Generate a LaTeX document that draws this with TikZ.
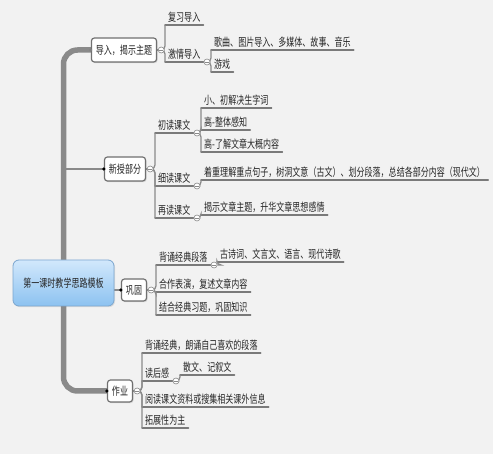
\documentclass[tikz,border=0pt]{standalone}
\usepackage{fontspec}
\setmainfont{Noto Sans CJK SC}[FakeStretch=0.71]
\usetikzlibrary{shadows,backgrounds}
\definecolor{bgc}{HTML}{F2F2F2}
\definecolor{txt}{HTML}{252525}
\definecolor{trunkc}{HTML}{8A8A8A}
\definecolor{nodeborder}{HTML}{707070}
\definecolor{linec}{HTML}{8A8A8A}
\definecolor{ulc}{HTML}{7A7A7A}
\definecolor{togc}{HTML}{8A8A8A}
\definecolor{rootTop}{HTML}{D2E8FC}
\definecolor{rootBot}{HTML}{8CC2F0}
\definecolor{rootBorder}{HTML}{7BA6CF}
\begin{document}
\begin{tikzpicture}[x=1pt,y=-1pt,
  font=\fontsize{11.3}{13}\selectfont,
  topic/.style={draw=nodeborder, line width=1.2pt, fill=white, rounded corners=3pt,
    minimum height=24pt, inner xsep=4.5pt, inner ysep=0pt, text=txt,
    drop shadow={opacity=0.25, shadow xshift=1pt, shadow yshift=-1.2pt}},
  rootbox/.style={draw=rootBorder, line width=0.8pt, top color=rootTop, bottom color=rootBot,
    rounded corners=6pt, minimum width=101pt, minimum height=46pt, text=txt,
    drop shadow={opacity=0.2, shadow xshift=1pt, shadow yshift=-1.2pt}},
  leaf/.style={anchor=south west, inner xsep=3pt, inner ysep=2.2pt, text=txt},
  uline/.style={draw=ulc, line width=1.5pt, line cap=round},
  conn/.style={draw=linec, line width=1.3pt, rounded corners=4pt},
  trunkline/.style={draw=trunkc, line width=5.5pt, rounded corners=14pt},
  branchline/.style={draw=trunkc, line width=2.5pt},
  tog/.style={circle, draw=togc, fill=white, line width=0.6pt, minimum size=6pt, inner sep=0pt,
    path picture={\draw[togc, line width=0.6pt] ([xshift=1.3pt]path picture bounding box.west) -- ([xshift=-1.3pt]path picture bounding box.east);}}
]
\useasboundingbox (0,0) rectangle (493,454);

% main nodes
\node[rootbox] (root) at (63.5,283) {第一课时教学思路模板};
\node[topic] (dr) at (124,50) {导入，揭示主题};
\node[topic] (xs) at (125,169) {新授部分};
\node[topic, minimum height=22pt] (gg) at (134,290) {巩固};
\node[topic, minimum height=22pt] (zy) at (120,391) {作业};

% toggles of main nodes
\node[tog] (c1) at ([xshift=4pt]dr.east) {};
\node[tog] (c3) at ([xshift=4pt]xs.east) {};
\node[tog] (c7) at ([xshift=4pt]gg.east) {};
\node[tog] (c9) at ([xshift=4pt]zy.east) {};

% leaves: 导入
\node[leaf] (l1) at (165,25) {复习导入};
\node[leaf] (l2) at (165,62) {激情导入};
\node[tog] (c2) at ([xshift=3.5pt]l2.south east) {};
\node[leaf] (l3) at (211,50) {歌曲、图片导入、多媒体、故事、音乐};
\node[leaf] (l4) at (211,72) {游戏};

% leaves: 新授部分
\node[leaf] (l5) at (155,133) {初读课文};
\node[tog] (c4) at ([xshift=3.5pt]l5.south east) {};
\node[leaf] (l6) at (201,108) {小、初解决生字词};
\node[leaf] (l7) at (201,130) {高-整体感知};
\node[leaf] (l8) at (201,152) {高-了解文章大概内容};
\node[leaf] (l9) at (155,186) {细读课文};
\node[tog] (c5) at ([xshift=3.5pt]l9.south east) {};
\node[leaf] (l10) at (201,180) {着重理解重点句子，树洞文意（古文）、划分段落，总结各部分内容（现代文）};
\node[leaf] (l11) at (155,218) {再读课文};
\node[tog] (c6) at ([xshift=3.5pt]l11.south east) {};
\node[leaf] (l12) at (201,215) {揭示文章主题，升华文章思想感情};

% leaves: 巩固
\node[leaf] (l13) at (156,265) {背诵经典段落};
\node[tog] (c8) at ([xshift=3.5pt]l13.south east) {};
\node[leaf] (l14) at (217,262) {古诗词、文言文、语言、现代诗歌};
\node[leaf] (l15) at (156,292) {合作表演，复述文章内容};
\node[leaf] (l16) at (156,315) {结合经典习题，巩固知识};

% leaves: 作业
\node[leaf] (l17) at (142,353) {背诵经典，朗诵自己喜欢的段落};
\node[leaf] (l18) at (142,381) {读后感};
\node[tog] (c10) at ([xshift=3.5pt]l18.south east) {};
\node[leaf] (l19) at (180,375) {散文、记叙文};
\node[leaf] (l20) at (142,407) {阅读课文资料或搜集相关课外信息};
\node[leaf] (l21) at (142,428) {拓展性为主};

\begin{scope}[on background layer]
  \fill[bgc] (0,0) rectangle (493,454);
  \draw[trunkline] (dr.west) -| (root.center) |- (zy.west);
  \draw[branchline] (xs.west) -- (xs.west -| root.center);
  \draw[branchline] (gg.west) -- (gg.west -| root.center);
  % underlines
  \foreach \n in {l1,l2,l3,l4,l5,l6,l7,l8,l9,l10,l11,l12,l13,l14,l15,l16,l17,l18,l19,l20,l21}
    \draw[uline] (\n.south west) -- (\n.south east);
  % connectors
  \draw[conn] (dr.east) -- (c1.west);
  \draw[conn] (xs.east) -- (c3.west);
  \draw[conn] (gg.east) -- (c7.west);
  \draw[conn] (zy.east) -- (c9.west);
  \foreach \c/\l in {c1/l1,c1/l2,c2/l3,c2/l4,c3/l5,c3/l9,c3/l11,c4/l6,c4/l7,c4/l8,c5/l10,c6/l12,c7/l13,c7/l15,c7/l16,c8/l14,c9/l17,c9/l18,c9/l20,c9/l21,c10/l19}
    \draw[conn] (\c.east) -| (\l.south west);
\end{scope}

% endpoint dots
\fill[gray] (dr.west) circle (1.6pt);
\fill[black] (xs.west) circle (1.8pt);
\fill[black] (gg.west) circle (1.8pt);
\fill[black] (zy.west) circle (1.8pt);
\end{tikzpicture}
\end{document}
